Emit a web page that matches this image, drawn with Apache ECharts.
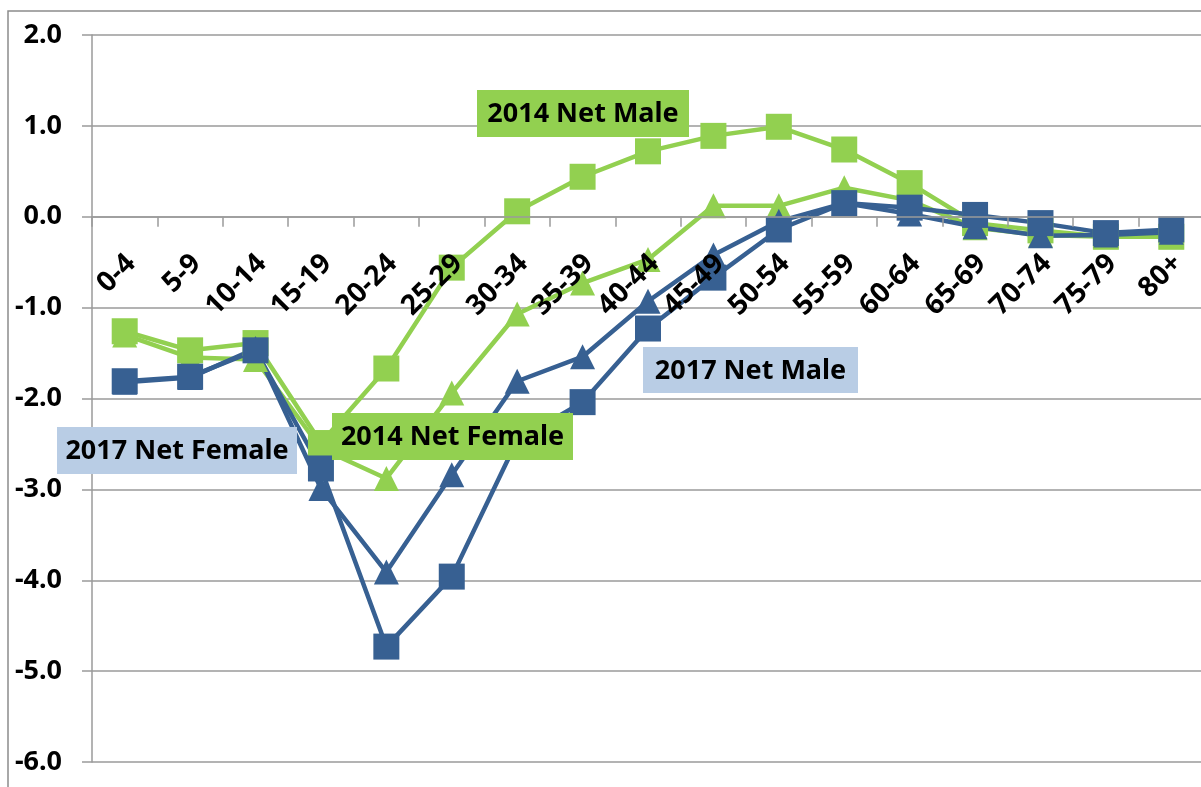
<!DOCTYPE html>
<html>
<head>
<meta charset="utf-8">
<script src="https://cdn.jsdelivr.net/npm/echarts@6/dist/echarts.min.js"></script>
<style>
html,body{margin:0;padding:0;background:#fff;}
#chart{width:1201px;height:787px;}
</style>
</head>
<body>
<div id="chart"></div>
<script>
var categories = ['0-4','5-9','10-14','15-19','20-24','25-29','30-34','35-39','40-44','45-49','50-54','55-59','60-64','65-69','70-74','75-79','80+'];
var male2014   = [-1.26,-1.47,-1.39,-2.49,-1.67,-0.56,0.06,0.44,0.72,0.89,0.99,0.74,0.37,-0.07,-0.15,-0.22,-0.22];
var female2014 = [-1.30,-1.55,-1.57,-2.55,-2.88,-1.94,-1.07,-0.73,-0.47,0.12,0.12,0.32,0.18,-0.12,-0.20,-0.22,-0.22];
var male2017   = [-1.81,-1.76,-1.47,-2.77,-4.73,-3.96,-2.46,-2.04,-1.23,-0.67,-0.14,0.15,0.10,0.02,-0.07,-0.18,-0.14];
var female2017 = [-1.82,-1.77,-1.45,-2.99,-3.91,-2.84,-1.81,-1.54,-0.93,-0.42,-0.05,0.15,0.03,-0.11,-0.21,-0.20,-0.17];
var yMin = -6, yMax = 2, yStep = 1;

var GREEN = '#92D050', BLUE = '#376092', LBLUE = '#B9CDE5';
var FONT = '"Noto Sans", "Liberation Sans", sans-serif';

function mkSeries(name, data, color, symbol, size) {
  return {
    name: name, type: 'line', data: data,
    symbol: symbol, symbolSize: size,
    lineStyle: {color: color, width: 4.5},
    itemStyle: {color: color},
    emphasis: {disabled: true},
    animation: false
  };
}

function labelBox(text, x, y, w, h, bg) {
  return {
    type: 'group', x: x, y: y, z: 100, zlevel: 1,
    children: [
      {type: 'rect', z: 100, zlevel: 1, shape: {x: 0, y: 0, width: w, height: h}, style: {fill: bg}},
      {type: 'text', z: 101, zlevel: 1, style: {text: text, x: w / 2, y: h / 2 + 1, align: 'center', verticalAlign: 'middle',
        font: 'bold 27px ' + FONT, fill: '#000'}}
    ]
  };
}

var gridTop = 35, gridH = 727;
var zeroOffset = -gridH * (0 - yMin) / (yMax - yMin);

var chart = echarts.init(document.getElementById('chart'), null, {renderer: 'canvas'});
chart.setOption({
  animation: false,
  backgroundColor: '#fff',
  grid: {left: 92, top: gridTop, width: 1112, height: gridH, containLabel: false, outerBoundsMode: 'none'},
  xAxis: {
    type: 'category', data: categories, boundaryGap: true, position: 'bottom', offset: zeroOffset, z: 10,
    axisLine: {onZero: false, lineStyle: {color: '#9a9a9a', width: 1.5}},
    axisTick: {show: true, length: 10, inside: false, lineStyle: {color: '#9a9a9a', width: 1.5}},
    axisLabel: {rotate: 45, margin: 36, color: '#000', fontWeight: 'bold', fontSize: 28, fontFamily: FONT, interval: 0,
      hideOverlap: false, verticalAlign: 'top', lineHeight: 18},
    splitLine: {show: false}
  },
  yAxis: {
    type: 'value', min: yMin, max: yMax, interval: yStep,
    axisLine: {show: true, lineStyle: {color: '#9a9a9a', width: 1.5}},
    axisTick: {show: true, length: 10, lineStyle: {color: '#9a9a9a', width: 1.5}},
    axisLabel: {margin: 30, color: '#000', fontWeight: 'bold', fontSize: 27, fontFamily: FONT,
      formatter: function (v) { return v.toFixed(1); }},
    splitLine: {show: true, lineStyle: {color: '#9a9a9a', width: 1.5}}
  },
  series: [
    mkSeries('2014 Net Female', female2014, GREEN, 'triangle', 25),
    mkSeries('2014 Net Male', male2014, GREEN, 'rect', 26),
    mkSeries('2017 Net Female', female2017, BLUE, 'triangle', 25),
    mkSeries('2017 Net Male', male2017, BLUE, 'rect', 26)
  ],
  graphic: [
    {type: 'rect', z: -1, silent: true, shape: {x: 8, y: 11, width: 1400, height: 1000},
      style: {fill: 'none', stroke: '#8c8c8c', lineWidth: 1.5}},
    labelBox('2014 Net Male', 477, 90, 212, 47, GREEN),
    labelBox('2017 Net Male', 643, 347, 215, 46, LBLUE),
    labelBox('2017 Net Female', 57, 427, 240, 47, LBLUE),
    labelBox('2014 Net Female', 332, 413, 241, 47, GREEN)
  ]
});
</script>
</body>
</html>
